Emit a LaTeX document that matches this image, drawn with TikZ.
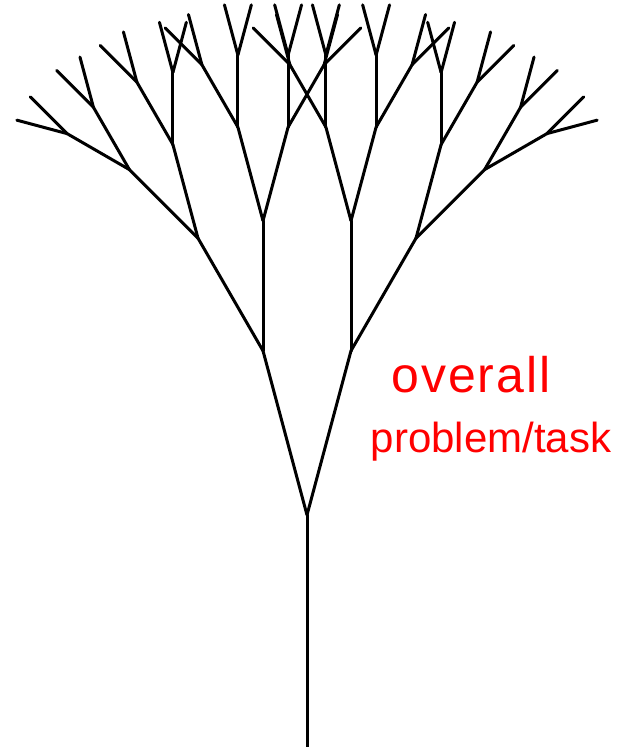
\documentclass[tikz,border=0pt]{standalone}
\usepackage{fontspec}
\setmainfont{Liberation Sans}
\def\seglen#1{\ifcase#1 232\or 170\or 130\or 97\or 72\or 52\fi}
\newcommand\treebranch[4]{%
  \edef\brlen{\seglen{#1}}%
  \edef\brang{\the\numexpr 90-(#4)\relax}%
  \path (#2) ++(\brang:\brlen pt) coordinate (#2#3);
  \draw[branchline] (#2) -- (#2#3);
  \ifnum#1<5
    \edef\brnext{%
      \noexpand\treebranch{\the\numexpr#1+1\relax}{#2#3}{l}{\the\numexpr#4-15\relax}%
      \noexpand\treebranch{\the\numexpr#1+1\relax}{#2#3}{r}{\the\numexpr#4+15\relax}}%
    \expandafter\brnext
  \fi}
\begin{document}
\begin{tikzpicture}[x=1pt,y=1pt,
  branchline/.style={line width=3pt, line cap=round, line join=round, black},
  txt/.style={text=red, inner sep=0pt}]
\useasboundingbox (0,0) rectangle (618,747);
\coordinate (base) at (307,0);
\coordinate (t) at (307,232);
\draw[branchline] (base) -- (t);
\treebranch{1}{t}{l}{-15}
\treebranch{1}{t}{r}{15}
\node[txt, anchor=base, font=\fontsize{50}{56}\selectfont] (ov) at (471,354) {\addfontfeature{LetterSpace=4}overall};
\node[txt, anchor=base, font=\fontsize{42}{48}\selectfont] (pt) at (491,294) {problem/task};
\end{tikzpicture}
\end{document}
